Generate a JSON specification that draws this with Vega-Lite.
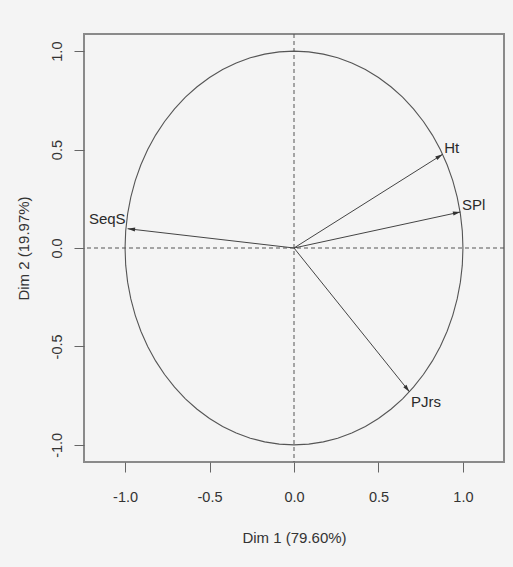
{
  "$schema": "https://vega.github.io/schema/vega-lite/v6.json",
  "autosize": {"type": "none"},
  "width": 420,
  "height": 428,
  "padding": {"left": 84, "top": 34, "right": 9, "bottom": 105},
  "background": "#f4f4f4",
  "config": {
    "view": {"stroke": "#8a8a8a", "strokeWidth": 2, "fill": "#f4f4f4"},
    "font": "Liberation Sans",
    "axis": {
      "grid": false,
      "domain": false,
      "tickSize": 10,
      "tickColor": "#666",
      "tickWidth": 1,
      "labelFont": "Liberation Sans",
      "labelFontSize": 14.5,
      "labelColor": "#333",
      "titleFont": "Liberation Sans",
      "titleFontSize": 15,
      "titleFontWeight": "normal",
      "titleColor": "#333"
    }
  },
  "layer": [
    {
      "data": {"values": [
        {"a": 0, "x": 1, "y": 0},
        {"a": 5, "x": 0.9962, "y": 0.0872},
        {"a": 10, "x": 0.9848, "y": 0.1736},
        {"a": 15, "x": 0.9659, "y": 0.2588},
        {"a": 20, "x": 0.9397, "y": 0.342},
        {"a": 25, "x": 0.9063, "y": 0.4226},
        {"a": 30, "x": 0.866, "y": 0.5},
        {"a": 35, "x": 0.8192, "y": 0.5736},
        {"a": 40, "x": 0.766, "y": 0.6428},
        {"a": 45, "x": 0.7071, "y": 0.7071},
        {"a": 50, "x": 0.6428, "y": 0.766},
        {"a": 55, "x": 0.5736, "y": 0.8192},
        {"a": 60, "x": 0.5, "y": 0.866},
        {"a": 65, "x": 0.4226, "y": 0.9063},
        {"a": 70, "x": 0.342, "y": 0.9397},
        {"a": 75, "x": 0.2588, "y": 0.9659},
        {"a": 80, "x": 0.1736, "y": 0.9848},
        {"a": 85, "x": 0.0872, "y": 0.9962},
        {"a": 90, "x": 0, "y": 1},
        {"a": 95, "x": -0.0872, "y": 0.9962},
        {"a": 100, "x": -0.1736, "y": 0.9848},
        {"a": 105, "x": -0.2588, "y": 0.9659},
        {"a": 110, "x": -0.342, "y": 0.9397},
        {"a": 115, "x": -0.4226, "y": 0.9063},
        {"a": 120, "x": -0.5, "y": 0.866},
        {"a": 125, "x": -0.5736, "y": 0.8192},
        {"a": 130, "x": -0.6428, "y": 0.766},
        {"a": 135, "x": -0.7071, "y": 0.7071},
        {"a": 140, "x": -0.766, "y": 0.6428},
        {"a": 145, "x": -0.8192, "y": 0.5736},
        {"a": 150, "x": -0.866, "y": 0.5},
        {"a": 155, "x": -0.9063, "y": 0.4226},
        {"a": 160, "x": -0.9397, "y": 0.342},
        {"a": 165, "x": -0.9659, "y": 0.2588},
        {"a": 170, "x": -0.9848, "y": 0.1736},
        {"a": 175, "x": -0.9962, "y": 0.0872},
        {"a": 180, "x": -1, "y": 0},
        {"a": 185, "x": -0.9962, "y": -0.0872},
        {"a": 190, "x": -0.9848, "y": -0.1736},
        {"a": 195, "x": -0.9659, "y": -0.2588},
        {"a": 200, "x": -0.9397, "y": -0.342},
        {"a": 205, "x": -0.9063, "y": -0.4226},
        {"a": 210, "x": -0.866, "y": -0.5},
        {"a": 215, "x": -0.8192, "y": -0.5736},
        {"a": 220, "x": -0.766, "y": -0.6428},
        {"a": 225, "x": -0.7071, "y": -0.7071},
        {"a": 230, "x": -0.6428, "y": -0.766},
        {"a": 235, "x": -0.5736, "y": -0.8192},
        {"a": 240, "x": -0.5, "y": -0.866},
        {"a": 245, "x": -0.4226, "y": -0.9063},
        {"a": 250, "x": -0.342, "y": -0.9397},
        {"a": 255, "x": -0.2588, "y": -0.9659},
        {"a": 260, "x": -0.1736, "y": -0.9848},
        {"a": 265, "x": -0.0872, "y": -0.9962},
        {"a": 270, "x": 0, "y": -1},
        {"a": 275, "x": 0.0872, "y": -0.9962},
        {"a": 280, "x": 0.1736, "y": -0.9848},
        {"a": 285, "x": 0.2588, "y": -0.9659},
        {"a": 290, "x": 0.342, "y": -0.9397},
        {"a": 295, "x": 0.4226, "y": -0.9063},
        {"a": 300, "x": 0.5, "y": -0.866},
        {"a": 305, "x": 0.5736, "y": -0.8192},
        {"a": 310, "x": 0.6428, "y": -0.766},
        {"a": 315, "x": 0.7071, "y": -0.7071},
        {"a": 320, "x": 0.766, "y": -0.6428},
        {"a": 325, "x": 0.8192, "y": -0.5736},
        {"a": 330, "x": 0.866, "y": -0.5},
        {"a": 335, "x": 0.9063, "y": -0.4226},
        {"a": 340, "x": 0.9397, "y": -0.342},
        {"a": 345, "x": 0.9659, "y": -0.2588},
        {"a": 350, "x": 0.9848, "y": -0.1736},
        {"a": 355, "x": 0.9962, "y": -0.0872},
        {"a": 360, "x": 1, "y": 0}
      ]},
      "mark": {"type": "line", "color": "#555", "strokeWidth": 1.1, "clip": true},
      "encoding": {
        "x": {"field": "x", "type": "quantitative",
          "scale": {"domain": [-1.243, 1.243], "nice": false, "zero": false},
          "axis": {"values": [-1, -0.5, 0, 0.5, 1], "title": "Dim 1 (79.60%)",
            "labelExpr": "(datum.value < 0 ? '-' : '') + format(abs(datum.value), '.1f')",
            "labelPadding": 18, "titlePadding": 27}},
        "y": {"field": "y", "type": "quantitative",
          "scale": {"domain": [-1.087, 1.087], "nice": false, "zero": false},
          "axis": {"values": [-1, -0.5, 0, 0.5, 1], "title": "Dim 2 (19.97%)",
            "labelExpr": "(datum.value < 0 ? '-' : '') + format(abs(datum.value), '.1f')",
            "labelAngle": 270, "labelAlign": "center", "labelBaseline": "alphabetic",
            "labelPadding": 13, "titlePadding": 18}},
        "order": {"field": "a", "type": "quantitative"}
      }
    },
    {
      "data": {"values": [{"x": 0, "y": 0}]},
      "mark": {"type": "rule", "color": "#555", "strokeWidth": 1, "strokeDash": [4, 3]},
      "encoding": {
        "x": {"field": "x", "type": "quantitative", "title": "Dim 1 (79.60%)"}
      }
    },
    {
      "data": {"values": [{"x": 0, "y": 0}]},
      "mark": {"type": "rule", "color": "#555", "strokeWidth": 1, "strokeDash": [4, 3]},
      "encoding": {
        "y": {"field": "y", "type": "quantitative", "title": "Dim 2 (19.97%)"}
      }
    },
    {
      "data": {"values": [
        {"var": "Ht", "x": 0.88, "y": 0.476},
        {"var": "SPl", "x": 0.985, "y": 0.183},
        {"var": "PJrs", "x": 0.684, "y": -0.731},
        {"var": "SeqS", "x": -0.985, "y": 0.098}
      ]},
      "encoding": {
        "x": {"field": "x", "type": "quantitative", "title": "Dim 1 (79.60%)"},
        "y": {"field": "y", "type": "quantitative", "title": "Dim 2 (19.97%)"}
      },
      "layer": [
        {
          "mark": {"type": "rule", "color": "#444", "strokeWidth": 1},
          "encoding": {
            "x2": {"datum": 0},
            "y2": {"datum": 0}
          }
        },
        {
          "transform": [{"calculate": "atan2(datum.x * 168.5, datum.y * 197) * 180 / PI", "as": "ang"}],
          "mark": {"type": "point", "shape": "M0,0 L-0.4,1.5 L0.4,1.5 Z", "size": 100, "filled": true, "color": "#333", "opacity": 1},
          "encoding": {
            "angle": {"field": "ang", "type": "quantitative", "scale": null}
          }
        },
        {
          "transform": [{"filter": "datum.var == 'Ht' || datum.var == 'SPl'"}],
          "mark": {"type": "text", "align": "left", "baseline": "alphabetic", "dx": 1.5, "dy": -1.6, "fontSize": 15, "color": "#2a2a2a", "font": "Liberation Sans"},
          "encoding": {"text": {"field": "var"}}
        },
        {
          "transform": [{"filter": "datum.var == 'PJrs'"}],
          "mark": {"type": "text", "align": "left", "baseline": "alphabetic", "dx": 1.5, "dy": 15.4, "fontSize": 15, "color": "#2a2a2a", "font": "Liberation Sans"},
          "encoding": {"text": {"field": "var"}}
        },
        {
          "transform": [{"filter": "datum.var == 'SeqS'"}],
          "mark": {"type": "text", "align": "right", "baseline": "alphabetic", "dx": -2, "dy": -4.6, "fontSize": 15, "color": "#2a2a2a", "font": "Liberation Sans"},
          "encoding": {"text": {"field": "var"}}
        }
      ]
    }
  ]
}
